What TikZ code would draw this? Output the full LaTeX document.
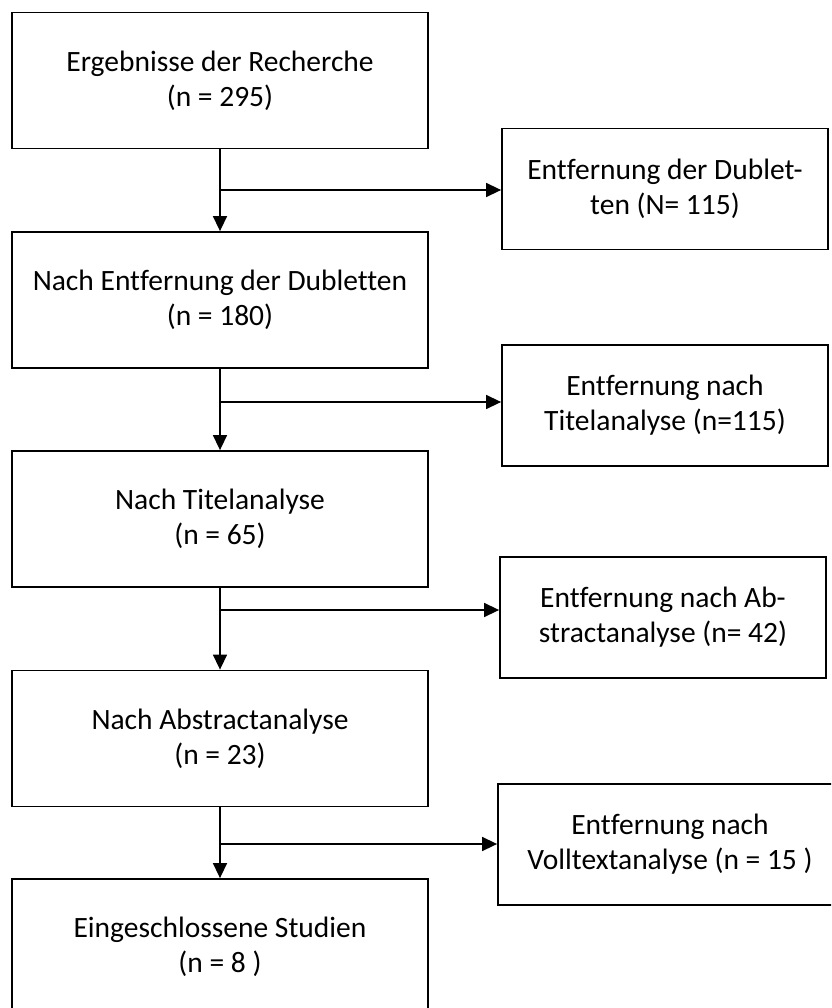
\documentclass[tikz,border=0pt]{standalone}
\usepackage{fontspec}
\setmainfont[Ligatures=CommonOff]{Carlito}
\usetikzlibrary{arrows.meta}

\begin{document}
\begin{tikzpicture}[x=1pt,y=-1pt,>={Triangle[length=15pt,width=14pt]},line width=1.5pt,
  stage/.style={draw,line width=1.8pt,minimum width=416pt,minimum height=136pt,align=center,inner sep=0pt,font=\fontsize{29.5}{35}\selectfont},
  removed/.style={draw,line width=1.8pt,minimum width=326pt,minimum height=121pt,align=center,inner sep=0pt,font=\fontsize{29.5}{35}\selectfont}]
\useasboundingbox (0,0) rectangle (831,1008);
\clip (0,0) rectangle (831,1008);
% main column
\node[stage] (s1) at (220,80.5) {Ergebnisse der Recherche\\(n = 295)};
\node[stage] (s2) at (220,300) {Nach Entfernung der Dubletten\\(n = 180)};
\node[stage] (s3) at (220,519) {Nach Titelanalyse\\(n = 65)};
\node[stage] (s4) at (220,738.5) {Nach Abstractanalyse\\(n = 23)};
\node[stage] (s5) at (220,947) {Eingeschlossene Studien\\(n = 8 )};
% exclusions
\node[removed] (r1) at (665,189) {Entfernung der Dublet-\\ten (N= 115)};
\node[removed] (r2) at (665,405.5) {Entfernung nach\\Titelanalyse (n=115)};
\node[removed] (r3) at (663,617.5) {Entfernung nach Ab-\\stractanalyse (n= 42)};
\node[removed,minimum width=344pt] (r4) at (670,844.5) {Entfernung nach\\Volltextanalyse (n = 15 )};
\coordinate (b1) at (220,190);
\coordinate (b2) at (220,402);
\coordinate (b3) at (220,610);
\coordinate (b4) at (220,844);
\draw[->] (s1) -- (s2);
\draw[->] (s2) -- (s3);
\draw[->] (s3) -- (s4);
\draw[->] (s4) -- (s5);
\draw[->] (b1) -- (b1 -| r1.west);
\draw[->] (b2) -- (b2 -| r2.west);
\draw[->] (b3) -- (b3 -| r3.west);
\draw[->] (b4) -- (b4 -| r4.west);
\end{tikzpicture}
\end{document}
